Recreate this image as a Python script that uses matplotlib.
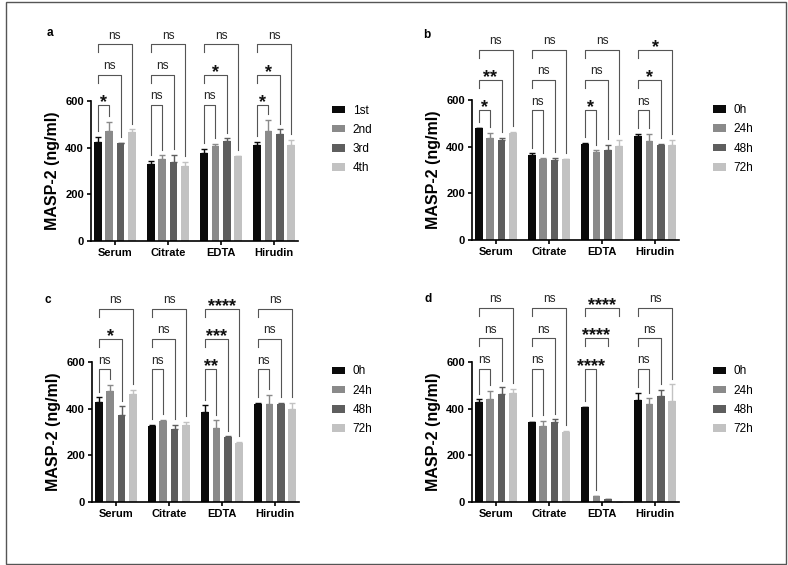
import matplotlib
matplotlib.use('Agg')
import matplotlib.pyplot as plt
from matplotlib.patches import Rectangle
import numpy as np

plt.rcParams['font.family'] = ['Liberation Sans', 'DejaVu Sans']

groups = ['Serum', 'Citrate', 'EDTA', 'Hirudin']
sample_labels = ['1st', '2nd', '3rd', '4th']
time_labels = ['0h', '24h', '48h', '72h']
colors = ['#0a0a0a', '#8a8a8a', '#5e5e5e', '#c2c2c2']

# panel a: repeated samples
a_means = [[424, 328, 377, 412], [472, 352, 406, 472], [419, 338, 427, 459], [469, 322, 365, 410]]
a_errs = [[21, 16, 19, 12], [39, 15, 11, 46], [2, 30, 13, 19], [9, 16, 0, 23]]
a_sig = [['*', 'ns', 'ns'], ['ns', 'ns', 'ns'], ['ns', '*', 'ns'], ['*', '*', 'ns']]

# panel b
b_means = [[478, 363, 412, 445], [436, 348, 378, 423], [430, 343, 386, 408], [458, 348, 401, 407]]
b_errs = [[4, 8, 5, 11], [24, 2, 6, 32], [9, 10, 20, 4], [7, 1, 28, 23]]
b_sig = [['*', '**', 'ns'], ['ns', 'ns', 'ns'], ['*', 'ns', 'ns'], ['ns', '*', '*']]

# panel c
c_means = [[429, 325, 385, 421], [476, 348, 316, 418], [373, 311, 279, 422], [462, 332, 254, 400]]
c_errs = [[19, 6, 29, 3], [25, 5, 34, 41], [37, 18, 2, 2], [19, 10, 5, 24]]
c_sig = [['ns', '*', 'ns'], ['ns', 'ns', 'ns'], ['**', '***', '****'], ['ns', 'ns', 'ns']]

# panel d
d_means = [[430, 341, 406, 437], [443, 327, 26, 418], [463, 343, 13, 453], [466, 301, 0, 434]]
d_errs = [[10, 2, 1, 31], [32, 21, 1, 26], [29, 11, 1, 29], [20, 3, 0, 70]]
d_sig = [['ns', 'ns', 'ns'], ['ns', 'ns', 'ns'], ['****', '****', '****'], ['ns', 'ns', 'ns']]

W, H = 788, 565
fig = plt.figure(figsize=(W / 100, H / 100), dpi=100)

# frame around the figure
fig.patches.append(Rectangle((6 / W, 1 / H), 780 / W, 562 / H, transform=fig.transFigure,
                             fill=False, edgecolor='#555555', lw=1))

pitch = 0.214
bw = 0.145
offsets = (np.arange(4) - 1.5) * pitch


def px_axes(left, y0):
    # left, y0 in pixels from top-left; width 207 px, height 210 px (0..900)
    return [left / W, (H - y0) / H, 207 / W, 210 / H]


def draw_panel(rect, letter, letter_xy, means, errs, sig, labels, legend_xy, base):
    ax = fig.add_axes(rect)
    x = np.arange(len(groups))
    tops = np.array(means) + np.array(errs)
    for i in range(4):
        ax.bar(x + offsets[i], means[i], width=bw, color=colors[i], label=labels[i], zorder=2)
        ax.errorbar(x + offsets[i], means[i], yerr=[np.zeros(4), errs[i]], fmt='none',
                    ecolor=colors[i], elinewidth=1, capsize=2, capthick=1, zorder=1)
    ax.set_xlim(-0.45, 3.45)
    ax.set_ylim(0, 900)
    ax.spines['top'].set_visible(False)
    ax.spines['right'].set_visible(False)
    ax.spines['left'].set_bounds(0, 600)
    ax.spines['left'].set_linewidth(1.2)
    ax.spines['bottom'].set_linewidth(1.2)
    ax.set_yticks([0, 200, 400, 600])
    ax.set_xticks(x)
    ax.set_xticklabels(groups)
    ax.tick_params(axis='both', length=3, width=1.2, pad=2, labelsize=8)
    for t in ax.get_xticklabels() + ax.get_yticklabels():
        t.set_fontweight('bold')
    ax.set_ylabel('MASP-2 (ng/ml)', fontsize=11.5, fontweight='bold')
    ax.yaxis.set_label_coords(-0.15, 0.333)

    # significance brackets
    for g in range(4):
        x0 = g + offsets[0]
        for k in range(3):
            level = base + k * 130
            xr = g + offsets[k + 1]
            if k == 0:
                left_bot = tops[0][g] + 25
            else:
                left_bot = level - 35
            right_bot = tops[k + 1][g] + 25
            if level - right_bot > 600:
                right_bot = level - 35
            ax.plot([x0, x0, xr, xr], [left_bot, level, level, right_bot],
                    color='#555555', lw=0.8, clip_on=False, zorder=3)
            s = sig[g][k]
            if s == 'ns':
                ax.annotate(s, ((x0 + xr) / 2, level), xytext=(0, 4), textcoords='offset points',
                            ha='center', va='baseline', fontsize=8.5, color='#222222',
                            annotation_clip=False)
            else:
                ax.annotate(s, ((x0 + xr) / 2, level), xytext=(0, -1.5), textcoords='offset points',
                            ha='center', va='baseline', fontsize=13, fontweight='bold',
                            color='#111111', annotation_clip=False)

    ax.legend(loc='upper left', bbox_to_anchor=(legend_xy[0] / W, 1 - legend_xy[1] / H),
              bbox_transform=fig.transFigure, frameon=False, fontsize=8.5,
              handlelength=1.1, handleheight=0.62, labelspacing=0.62,
              handletextpad=0.65, borderpad=0, borderaxespad=0)
    fig.text(letter_xy[0] / W, 1 - letter_xy[1] / H, letter, fontsize=8.5, fontweight='bold',
             ha='center', va='center')
    return ax


draw_panel(px_axes(91, 241), 'a', (50, 33), a_means, a_errs, a_sig, sample_labels, (332, 104.5), 583)
draw_panel(px_axes(472, 240), 'b', (427, 35), b_means, b_errs, b_sig, time_labels, (713, 104), 556)
draw_panel(px_axes(92, 502), 'c', (48, 300), c_means, c_errs, c_sig, time_labels, (332, 365.5), 569)
draw_panel(px_axes(472, 502), 'd', (428, 299), d_means, d_errs, d_sig, time_labels, (713, 365.5), 572)

fig.savefig('out.png', dpi=100)
